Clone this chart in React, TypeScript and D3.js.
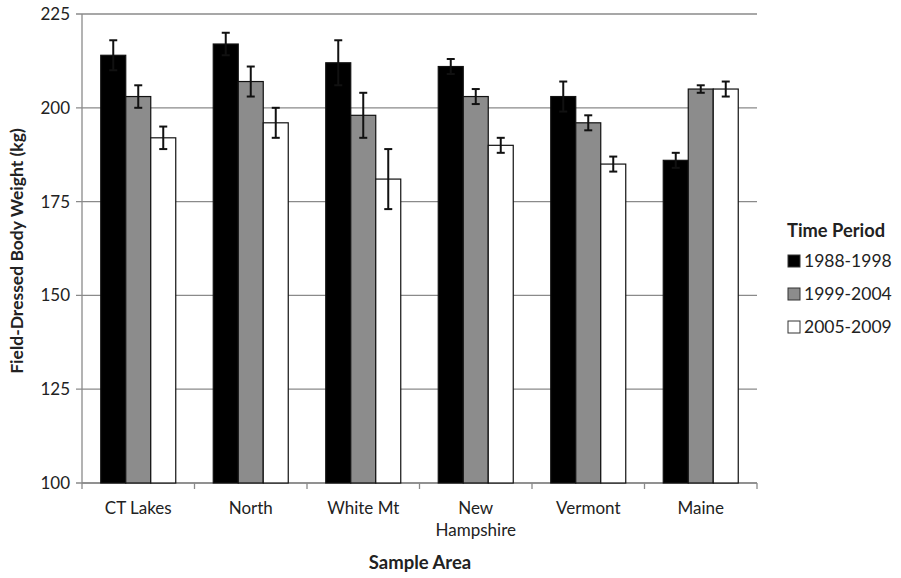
import React from "react";
import * as d3 from "d3";

const categories = ["CT Lakes", "North", "White Mt", "New Hampshire", "Vermont", "Maine"];
const categoryLines = [["CT Lakes"], ["North"], ["White Mt"], ["New", "Hampshire"], ["Vermont"], ["Maine"]];
const seriesNames = ["1988-1998", "1999-2004", "2005-2009"];
const values1988 = [214, 217, 212, 211, 203, 186];
const values1999 = [203, 207, 198, 203, 196, 205];
const values2005 = [192, 196, 181, 190, 185, 205];
const errors1988 = [4, 3, 6, 2, 4, 2];
const errors1999 = [3, 4, 6, 2, 2, 1];
const errors2005 = [3, 4, 8, 2, 2, 2];
const yTicks = [100, 125, 150, 175, 200, 225];

const seriesValues = [values1988, values1999, values2005];
const seriesErrors = [errors1988, errors1999, errors2005];
const fills = ["#000000", "#8c8c8c", "#ffffff"];

const FONT = "Lato, 'Open Sans', sans-serif";

export default function App() {
  const W = 901, H = 578;
  const left = 82, right = 757, top = 14, bottom = 483;
  const x = d3.scaleBand<string>().domain(categories).range([left, right]);
  const step = x.bandwidth();
  const barW = step / 4.5;
  const y = d3.scaleLinear().domain([100, 225]).range([bottom, top]);

  return (
    <svg width={W} height={H} style={{ position: "absolute", left: 0, top: 0, background: "#fff" }}>
      {/* gridlines */}
      {yTicks.map((t) => (
        <g key={t}>
          <line x1={left - 6} x2={right} y1={y(t)} y2={y(t)} stroke="#8a8a8a" strokeWidth={1.3} />
          <text x={70} y={y(t)} dy="0.35em" textAnchor="end" fontFamily={FONT} fontSize={17} fill="#222">{t}</text>
        </g>
      ))}
      {/* axes */}
      <line x1={left} x2={left} y1={top} y2={bottom} stroke="#8a8a8a" strokeWidth={1.3} />
      <line x1={left} x2={right} y1={bottom} y2={bottom} stroke="#8a8a8a" strokeWidth={1.3} />
      {d3.range(categories.length + 1).map((i) => (
        <line key={i} x1={left + i * step} x2={left + i * step} y1={bottom} y2={bottom + 6} stroke="#8a8a8a" strokeWidth={1.3} />
      ))}
      {/* bars */}
      {categories.map((c, ci) => (
        <g key={c}>
          {seriesValues.map((vals, si) => {
            const bx = (x(c) as number) + barW * 0.75 + si * barW;
            const v = vals[ci];
            const e = seriesErrors[si][ci];
            const cx = bx + barW / 2;
            return (
              <g key={si}>
                <rect x={bx} y={y(v)} width={barW} height={bottom - y(v)} fill={fills[si]} stroke="#111" strokeWidth={1.2} />
                <line x1={cx} x2={cx} y1={y(v + e)} y2={y(v - e)} stroke="#111" strokeWidth={2} />
                <line x1={cx - 4} x2={cx + 4} y1={y(v + e)} y2={y(v + e)} stroke="#111" strokeWidth={2} />
                <line x1={cx - 4} x2={cx + 4} y1={y(v - e)} y2={y(v - e)} stroke="#111" strokeWidth={2} />
              </g>
            );
          })}
          <text x={(x(c) as number) + step / 2} y={514} textAnchor="middle" fontFamily={FONT} fontSize={17} fill="#222">
            {categoryLines[ci].map((l, li) => (
              <tspan key={li} x={(x(c) as number) + step / 2} dy={li === 0 ? 0 : 22}>{l}</tspan>
            ))}
          </text>
        </g>
      ))}
      {/* axis titles */}
      <text x={420} y={569} textAnchor="middle" fontFamily={FONT} fontSize={18.5} fontWeight="bold" fill="#222">Sample Area</text>
      <text transform={`translate(23,${251}) rotate(-90)`} textAnchor="middle" fontFamily={FONT} fontSize={17.5} fontWeight="bold" fill="#222">Field-Dressed Body Weight (kg)</text>
      {/* legend */}
      <text x={787} y={237} fontFamily={FONT} fontSize={18.3} fontWeight="bold" fill="#222">Time Period</text>
      {seriesNames.map((s, i) => (
        <g key={s}>
          <rect x={788} y={255 + i * 33} width={12} height={12} fill={fills[i]} stroke="#333" strokeWidth={1} />
          <text x={804} y={261 + i * 33} dy="0.35em" fontFamily={FONT} fontSize={17.5} fill="#222">{s}</text>
        </g>
      ))}
    </svg>
  );
}
